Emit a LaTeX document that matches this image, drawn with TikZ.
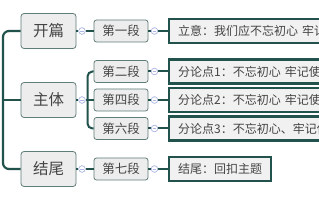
\documentclass[tikz,border=0pt]{standalone}
\usepackage{fontspec}
\setmainfont{Noto Sans CJK SC}
\usetikzlibrary{calc}
\definecolor{trunkc}{HTML}{22524C}
\definecolor{mainborder}{HTML}{5E7C78}
\definecolor{mainfill}{HTML}{EDEDED}
\definecolor{rightfill}{HTML}{F1F1F1}
\definecolor{togc}{HTML}{AEB7E4}
\definecolor{txt}{HTML}{444444}
\tikzset{
  mainbox/.style={draw=mainborder, fill=mainfill, rounded corners=3pt, line width=0.8pt,
    minimum width=55pt, minimum height=35pt, inner sep=0pt, text=txt,
    font=\fontsize{15.5}{15.5}\selectfont},
  midbox/.style={draw=mainborder, fill=mainfill, rounded corners=2.5pt, line width=0.8pt,
    minimum width=54pt, minimum height=22pt, inner sep=0pt, text=txt,
    font=\fontsize{12.5}{12.5}\selectfont},
  rightbox/.style={draw=trunkc, fill=rightfill, line width=2.4pt, anchor=west,
    minimum height=24pt, inner xsep=9pt, inner ysep=0pt, text=txt,
    font=\fontsize{12}{12}\selectfont},
  longbox/.style={rightbox, text width=170pt, align=left},
  tog/.style={circle, draw=togc, fill=white, minimum size=6.5pt, inner sep=0pt, line width=0.6pt,
    path picture={\draw[togc, line width=0.6pt]
      ([xshift=-1.8pt]path picture bounding box.center) -- ([xshift=1.8pt]path picture bounding box.center);}},
  conn/.style={draw=trunkc, line width=2pt},
  trunk/.style={draw=trunkc, line width=2.2pt, rounded corners=6pt},
}
\begin{document}
\begin{tikzpicture}[x=1pt,y=-1pt]
\useasboundingbox (0,0) rectangle (319,200);
\clip (0,0) rectangle (319,200);
\fill[white] (0,0) rectangle (319,200);

% main nodes
\node[mainbox] (kp) at (48.5,31) {开篇};
\node[mainbox] (zt) at (48.5,100) {主体};
\node[mainbox] (jw) at (48.5,169) {结尾};

% trunk
\coordinate (tx) at (3,100);
\draw[trunk] (kp.west) -| (tx |- jw.west) -- (jw.west);
\draw[conn] (tx) -- (zt.west);

% toggles after main nodes
\node[tog] (t1) at (82,31) {};
\node[tog] (t2) at (82,100) {};
\node[tog] (t3) at (82,169) {};

% middle nodes
\node[midbox] (d1) at (121,31) {第一段};
\node[midbox] (d2) at (121,71.5) {第二段};
\node[midbox] (d4) at (121,100) {第四段};
\node[midbox] (d6) at (121,128.5) {第六段};
\node[midbox] (d7) at (121,169) {第七段};

% connectors main -> middle
\draw[conn] (kp.east) -- (t1.west);
\draw[conn] (t1.east) -- (d1.west);
\draw[conn] (zt.east) -- (t2.west);
\coordinate (bx) at (87.5,100);
\draw[conn] (t2.east) -- (bx);
\draw[conn, rounded corners=5pt] (d2.west) -| (bx |- d6.west) -- (d6.west);
\draw[conn] (bx) -- (d4.west);
\draw[conn] (jw.east) -- (t3.west);
\draw[conn] (t3.east) -- (d7.west);

% toggles after middle nodes
\node[tog] (m1) at (154.5,31) {};
\node[tog] (m2) at (154.5,71.5) {};
\node[tog] (m4) at (154.5,100) {};
\node[tog] (m6) at (154.5,128.5) {};
\node[tog] (m7) at (154.5,169) {};

% right nodes
\node[longbox] (r1) at (168,31) {立意：我们应不忘初心 牢记};
\node[longbox] (r2) at (168,71.5) {分论点1：不忘初心 牢记使};
\node[longbox] (r4) at (168,100) {分论点2：不忘初心 牢记使};
\node[longbox] (r6) at (168,128.5) {分论点3：不忘初心、牢记使};
\node[rightbox] (r7) at (168,169) {结尾：回扣主题};

\foreach \a/\b/\c in {d1/m1/r1, d2/m2/r2, d4/m4/r4, d6/m6/r6, d7/m7/r7}{
  \draw[conn] (\a.east) -- (\b.west);
  \draw[conn] (\b.east) -- (\c.west);
}
\foreach \t in {t1,t2,t3,m1,m2,m4,m6,m7}{
  \node[tog] at (\t) {};
}
\end{tikzpicture}
\end{document}
